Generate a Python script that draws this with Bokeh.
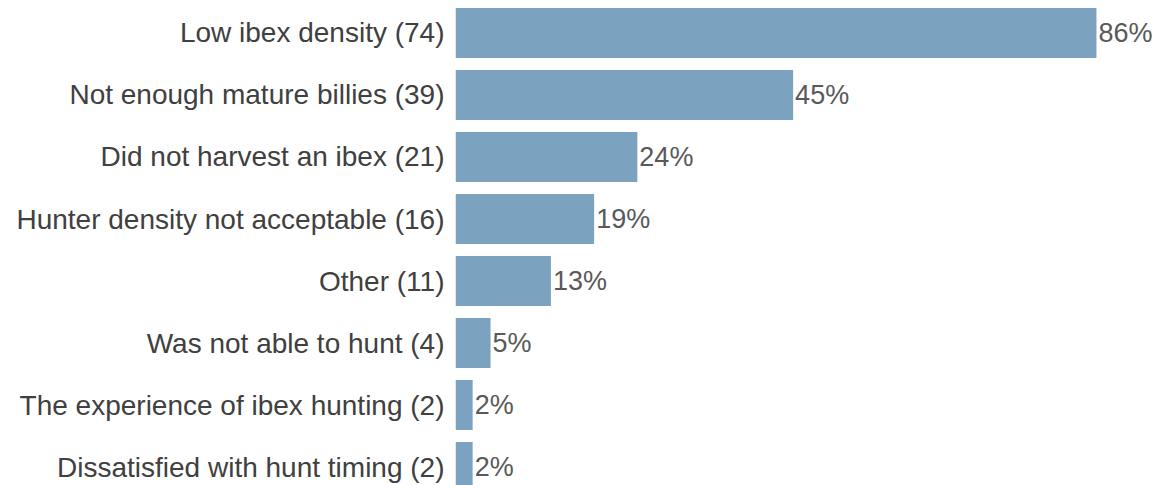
from bokeh.plotting import figure
from bokeh.models import Range1d, FixedTicker, ColumnDataSource
from bokeh.embed import file_html
from bokeh.resources import INLINE

categories = ["Low ibex density (74)", "Not enough mature billies (39)",
              "Did not harvest an ibex (21)", "Hunter density not acceptable (16)",
              "Other (11)", "Was not able to hunt (4)",
              "The experience of ibex hunting (2)", "Dissatisfied with hunt timing (2)"]
values = [86.0, 45.3, 24.4, 18.6, 12.8, 4.7, 2.3, 2.3]
value_labels = ["86%", "45%", "24%", "19%", "13%", "5%", "2%", "2%"]

pos = list(range(len(categories)))
src = ColumnDataSource(dict(y=pos, v=values, lab=value_labels))

W, H = 1157, 485
p = figure(width=W, height=H, output_backend="svg", toolbar_location=None,
           x_range=Range1d(0, 94.19), y_range=Range1d(7.298, -0.524),
           min_border_left=455, min_border_right=0, min_border_top=0, min_border_bottom=0)
p.outline_line_color = None
p.xaxis.visible = False
p.xgrid.visible = False
p.ygrid.visible = False
p.background_fill_color = "white"

p.hbar(y="y", right="v", left=0, height=0.806, source=src,
       fill_color="#7ba2bf", line_color=None)
p.text(x="v", y="y", text="lab", source=src, x_offset=2,
       text_align="left", text_baseline="middle",
       text_font_size="27px", text_color="#595959",
       text_font={"value": "Liberation Sans"})

ya = p.yaxis[0]
ya.ticker = FixedTicker(ticks=pos)
ya.major_label_overrides = {i: c for i, c in enumerate(categories)}
ya.axis_line_color = None
ya.major_tick_line_color = None
ya.minor_tick_line_color = None
ya.major_tick_out = 0
ya.major_tick_in = 0
ya.major_label_standoff = 11
ya.major_label_text_font = "Liberation Sans"
ya.major_label_text_font_size = "28px"
ya.major_label_text_color = "#404040"

open("out.html", "w").write(file_html(p, INLINE))
